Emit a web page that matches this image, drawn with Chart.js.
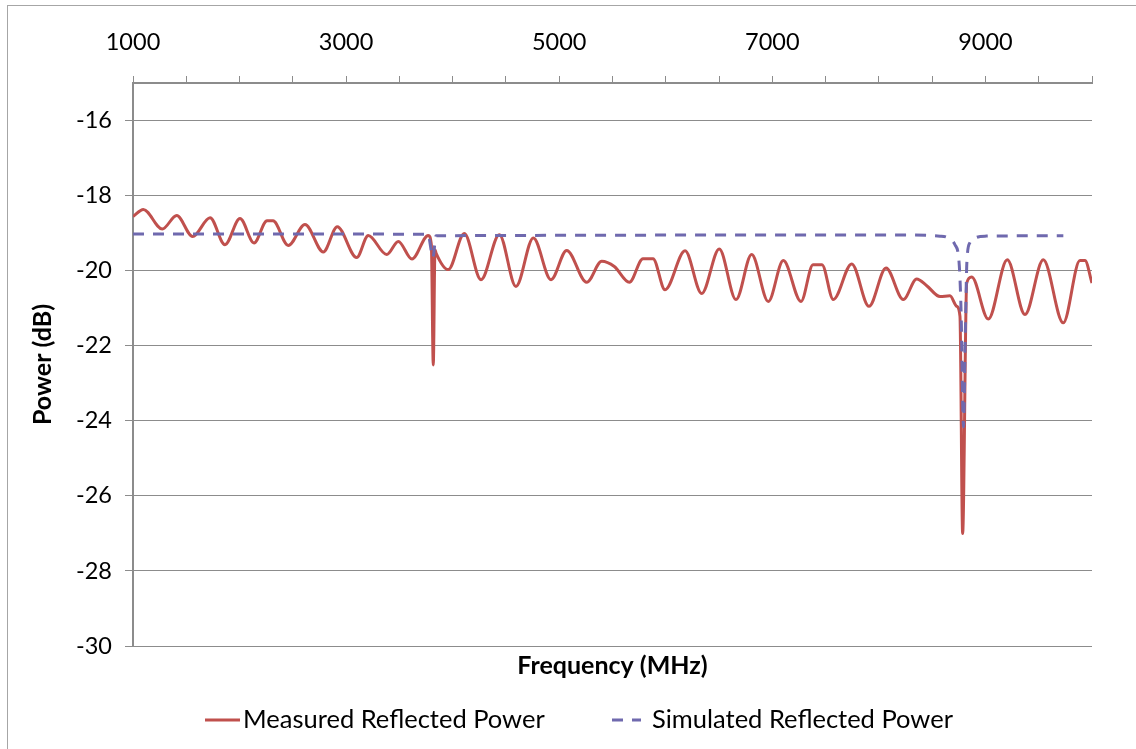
<!DOCTYPE html>
<html>
<head>
<meta charset="utf-8">
<script src="https://cdn.jsdelivr.net/npm/chart.js@4.4.1/dist/chart.umd.min.js"></script>
<style>
  html, body { margin: 0; padding: 0; background: #fff; }
  #wrap { position: relative; width: 1136px; height: 749px; }
  #frame { position: absolute; left: 7px; top: 5px; right: 0; bottom: 0; border-left: 1px solid #a6a6a6; border-top: 1px solid #a6a6a6; pointer-events: none; }
  canvas { display: block; }
</style>
</head>
<body>
<div id="wrap">
  <canvas id="chart" width="1136" height="749"></canvas>
  <div id="frame"></div>
</div>
<script>
const measuredFreq = [1000, 1097, 1275, 1410, 1560, 1723, 1863, 2004, 2136, 2258, 2314, 2457, 2614, 2786, 2917, 3099, 3208, 3381, 3490, 3618, 3771, 3800, 3818, 3834, 3844, 3959, 4109, 4266, 4438, 4594, 4757, 4923, 5070, 5258, 5399, 5517, 5658, 5786, 5880, 5993, 6181, 6337, 6502, 6659, 6806, 6962, 7103, 7269, 7382, 7466, 7572, 7745, 7907, 8067, 8229, 8355, 8449, 8574, 8667, 8730, 8761, 8786, 8824, 8871, 9027, 9205, 9371, 9543, 9730, 9887, 9934, 10000]
const measuredPower = [-18.56, -18.37, -18.89, -18.53, -19.09, -18.59, -19.31, -18.61, -19.26, -18.67, -18.67, -19.33, -18.77, -19.50, -18.83, -19.65, -19.06, -19.57, -19.22, -19.69, -19.06, -19.31, -22.51, -19.44, -19.53, -19.97, -19.01, -20.24, -19.04, -20.42, -19.13, -20.24, -19.46, -20.31, -19.75, -19.89, -20.31, -19.68, -19.68, -20.51, -19.47, -20.61, -19.42, -20.77, -19.57, -20.82, -19.73, -20.82, -19.84, -19.84, -20.77, -19.82, -20.95, -19.93, -20.77, -20.22, -20.40, -20.69, -20.67, -20.95, -21.22, -27.0, -20.33, -20.17, -21.29, -19.71, -21.17, -19.71, -21.39, -19.73, -19.73, -20.33]

const simulatedFreq = [1000, 3768, 3815, 3844, 8198, 8574, 8651, 8714, 8752, 8771, 8794, 8812, 8826, 8855, 8911, 8996, 9731]
const simulatedPower = [-19.02, -19.03, -19.65, -19.07, -19.05, -19.08, -19.13, -19.31, -19.76, -21.04, -24.16, -21.57, -19.76, -19.25, -19.12, -19.08, -19.07]

const freqLabels = [1000, 3000, 5000, 7000, 9000]
const seriesNames = ["Measured Reflected Power", "Simulated Reflected Power"]

const toPoints = (xs, ys) => xs.map((x, i) => ({ x, y: ys[i] }))

const gridColor = "#8c8c8c"
const font = "Lato"

// legend drawn by hand so the item spacing can follow the original
const lineLegend = {
  id: "lineLegend",
  afterDraw(chart) {
    const ctx = chart.ctx
    const y = 720
    const items = [
      { ds: chart.data.datasets[0], x0: 205, x1: 240, tx: 243 },
      { ds: chart.data.datasets[1], x0: 612, x1: 641, tx: 652 }
    ]
    ctx.save()
    items.forEach(({ ds, x0, x1, tx }) => {
      ctx.beginPath()
      ctx.strokeStyle = ds.borderColor
      ctx.lineWidth = ds.borderWidth
      ctx.setLineDash(ds.borderDash || [])
      ctx.moveTo(x0, y)
      ctx.lineTo(x1, y)
      ctx.stroke()
      ctx.setLineDash([])
      ctx.fillStyle = "#000"
      ctx.font = `25.5px ${font}`
      ctx.textBaseline = "middle"
      ctx.textAlign = "left"
      ctx.fillText(ds.label, tx, y)
    })
    ctx.restore()
  }
}

new Chart(document.getElementById("chart"), {
  type: "line",
  data: {
    datasets: [{
      label: seriesNames[0],
      data: toPoints(measuredFreq, measuredPower),
      borderColor: "#C0504D",
      borderWidth: 3,
      pointRadius: 0,
      cubicInterpolationMode: "monotone",
      order: 2
    }, {
      label: seriesNames[1],
      data: toPoints(simulatedFreq, simulatedPower),
      borderColor: "#6F69AE",
      borderWidth: 3,
      borderDash: [11, 9],
      pointRadius: 0,
      cubicInterpolationMode: "monotone",
      order: 1
    }]
  },
  options: {
    responsive: false,
    animation: false,
    layout: { padding: { left: 0, right: 44, top: 0, bottom: 0 } },
    plugins: {
      legend: { display: false },
      tooltip: { enabled: false }
    },
    scales: {
      x: {
        type: "linear",
        position: "top",
        min: 1000,
        max: 10000,
        afterFit: (scale) => { scale.height = 83 },
        grid: {
          drawOnChartArea: false,
          drawTicks: true,
          tickLength: 7,
          color: gridColor,
          lineWidth: 1
        },
        border: { display: true, color: gridColor, width: 2 },
        ticks: {
          stepSize: 500,
          autoSkip: false,
          maxRotation: 0,
          padding: 19,
          color: "#000",
          font: { family: font, size: 23.5 },
          callback: (v) => freqLabels.includes(v) ? String(v) : ""
        }
      },
      xTitle: {
        type: "linear",
        position: "bottom",
        min: 1000,
        max: 10000,
        afterFit: (scale) => { scale.height = 103 },
        grid: { display: false },
        border: { display: false },
        ticks: { display: false },
        title: {
          display: true,
          text: "Frequency (MHz)",
          color: "#000",
          font: { family: font, size: 25, weight: "bold" },
          padding: { top: 0, bottom: 68 }
        }
      },
      y: {
        min: -30,
        max: -15,
        afterFit: (scale) => { scale.width = 133 },
        grid: {
          color: gridColor,
          lineWidth: 1,
          drawTicks: true,
          tickLength: 8
        },
        border: { display: true, color: gridColor, width: 2 },
        ticks: {
          stepSize: 2,
          includeBounds: false,
          padding: 13,
          color: "#000",
          font: { family: font, size: 23.5 }
        },
        title: {
          display: true,
          text: "Power (dB)",
          color: "#000",
          font: { family: font, size: 25, weight: "bold" },
          padding: { top: 28, bottom: 0 }
        }
      }
    }
  },
  plugins: [lineLegend]
})
</script>
</body>
</html>
